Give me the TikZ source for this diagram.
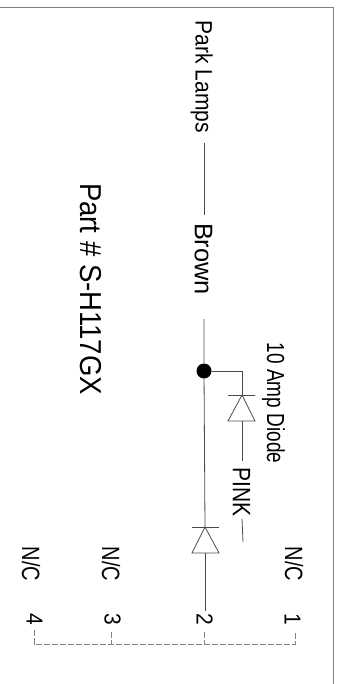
\documentclass[tikz,border=0pt]{standalone}
\usepackage{fontspec}
\setmainfont{Liberation Sans}
\usepackage{tikz}

\definecolor{wiregray}{gray}{0.3}
\definecolor{framegray}{gray}{0.5}

\tikzset{
    lbl/.code 2 args={%
        \pgfmathsetmacro\lblht{0.716*#1}%
        \tikzset{rotate=-90, yscale=#2, transform shape, inner sep=0pt,
            font=\fontsize{#1}{#1}\selectfont, text height=\lblht pt, text depth=0pt}},
    wire/.style={draw=wiregray, line width=0.8pt},
    pinwire/.style={draw=wiregray!70, line width=0.7pt, dash pattern=on 6pt off 2pt},
}

\begin{document}
\begin{tikzpicture}[x=1pt,y=-1pt]
    \useasboundingbox (0,0) rectangle (342,684);

    % Draw the frame
    \draw[framegray, line width=1pt] (0,8) -- (333,8) -- (333,684);

    % Labels
    \node[lbl={21}{1.13}] (parklamps) at (204,77) {Park Lamps};
    \node[lbl={25.4}{1}] (brown) at (204,259) {Brown};
    \node[lbl={27.5}{1.1}] (partno) at (91,289) {Part \# S-H117GX};
    \node[lbl={19}{1.3}] (ampdiode) at (276,403) {10 Amp Diode};
    \node[lbl={21}{1.2}] (pink) at (242,492) {PINK};

    % Pins and their labels
    \node[lbl={20}{1.25}] (nc1) at (294,564) {N/C};
    \node[lbl={20}{1.25}] (nc3) at (111,564) {N/C};
    \node[lbl={20}{1.25}] (nc4) at (31,564) {N/C};
    \node[lbl={21}{1.1}] (pin1) at (293,619) {1};
    \node[lbl={21}{1.1}] (pin2) at (205,619) {2};
    \node[lbl={21}{1.1}] (pin3) at (113,619) {3};
    \node[lbl={21}{1.1}] (pin4) at (35,619) {4};

    % Junction and wire ends
    \node[circle, fill=black, inner sep=0pt, minimum size=15pt] (dot) at (204,371) {};
    \coordinate (brownend) at (204,319);
    \coordinate (corner) at (242,371);
    \coordinate (pinkend) at (243,542);
    \coordinate (mainbar) at (205,527);
    \coordinate (mainbase) at (205,553);
    \coordinate (sidebar) at (242,395);
    \coordinate (sidebase) at (242,421);

    % Draw the main wire
    \draw[wire] (parklamps.east) ++(0,10) -- ([yshift=8pt]brown.west);
    \draw[wire] (brownend) -- (dot) -- (mainbar);
    \draw[wire] (mainbase) -- ([yshift=2pt]pin2.west);

    % Draw the main diode
    \draw[wire] (192,527) -- (219,527);
    \draw[wire] (mainbar) -- (192,553) -- (219,553) -- cycle;

    % Draw the side branch
    \draw[wire] (dot) -- (corner) -- (sidebar);
    \draw[wire] (sidebase) -- ([yshift=6pt]pink.west);
    \draw[wire] ([yshift=-2pt]pink.east) -- (pinkend);

    % Draw the side diode
    \draw[wire] (228,395) -- (255,395);
    \draw[wire] (sidebar) -- (228,421) -- (255,421) -- cycle;

    % Draw the dashed pin bus
    \draw[pinwire] (pin4.east) ++(-1,5) |- (295,644) -- (295,631);
    \draw[pinwire] (111,632) -- (111,644);
    \draw[pinwire] (204,632) -- (204,644);
\end{tikzpicture}
\end{document}
